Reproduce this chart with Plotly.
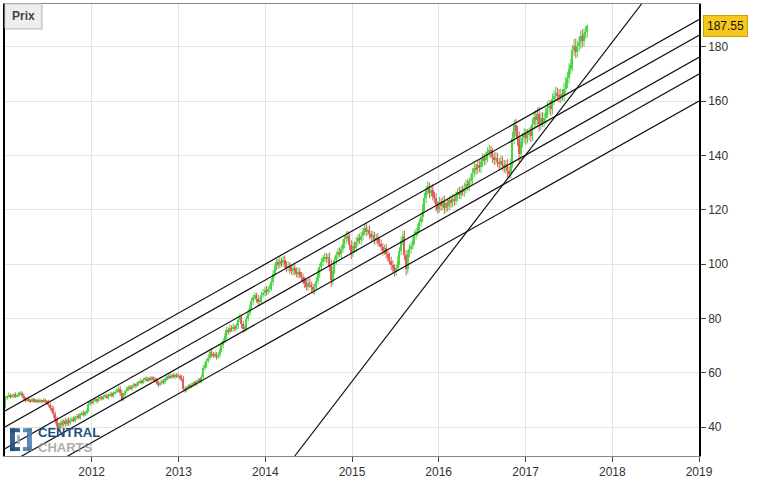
import pandas as pd
import plotly.graph_objects as go

# ---------------- data ----------------
start_week = "2011-01-03"
first_open = 47.5
closes = [
    50.8, 51.3, 51.9, 51.2, 51.6, 52.0, 51.4, 51.8, 52.4, 52.6,
    51.5, 50.6, 50.0, 50.4, 49.9, 49.6, 50.2, 49.8, 49.5, 49.9,
    49.4, 49.8, 49.5, 49.9, 49.6, 49.2, 48.1, 47.0, 46.3, 44.8,
    42.5, 40.6, 39.8, 41.6, 40.9, 42.3, 41.2, 42.8, 41.5, 42.6,
    43.1, 42.4, 43.6, 44.2, 43.5, 44.8, 45.3, 44.6, 45.5, 46.0,
    48.6, 49.3, 49.0, 49.8, 50.3, 49.7, 50.5, 51.0, 50.6, 51.2,
    51.6, 51.0, 51.8, 52.2, 51.7, 52.5, 53.0, 53.6, 54.2, 52.6,
    50.4, 51.8, 53.2, 54.0, 54.8, 54.3, 55.0, 55.6, 55.2, 55.9,
    56.4, 57.0, 56.6, 57.4, 57.9, 57.3, 58.0, 57.6, 58.2, 57.8,
    57.2, 56.3, 55.6, 56.4, 57.1, 56.5, 57.6, 58.3, 58.9, 58.4,
    59.0, 58.5, 59.2, 58.7, 58.9, 58.3, 57.6, 54.2, 53.6, 54.5,
    55.2, 54.8, 55.6, 56.3, 55.9, 56.8, 57.4, 57.0, 58.5, 61.8,
    63.0, 64.4, 65.6, 67.8, 66.9, 66.3, 66.8, 65.9, 66.5, 68.4,
    70.3, 71.8, 73.5, 75.9, 75.2, 76.6, 76.1, 77.0, 76.4, 77.2,
    79.6, 80.4, 77.8, 76.0, 76.9, 79.8, 82.1, 84.0, 86.3, 87.9,
    88.4, 87.2, 85.9, 86.8, 88.6, 89.4, 90.6, 89.8, 90.9, 91.4,
    93.5, 96.2, 99.0, 100.6, 99.8, 101.2, 100.4, 101.6, 99.9, 98.7,
    99.4, 98.2, 97.3, 98.6, 97.6, 96.4, 97.2, 96.0, 95.1, 94.2,
    92.8, 91.6, 93.2, 92.5, 91.4, 90.3, 91.6, 93.8, 96.5, 98.9,
    100.7, 102.1, 102.7, 101.9, 102.5, 99.4, 94.0, 97.6, 101.4, 103.2,
    104.6, 103.8, 105.5, 107.4, 109.2, 110.5, 109.8, 107.2, 104.1, 106.8,
    105.9, 108.3, 109.6, 108.7, 110.4, 112.1, 113.4, 111.8, 112.6, 110.9,
    109.8, 110.6, 108.9, 109.7, 108.2, 107.5, 106.3, 104.8, 105.9, 103.6,
    102.5, 101.3, 99.6, 98.4, 97.3, 98.6, 101.2, 104.8, 108.6, 110.2,
    103.5, 98.2, 103.9, 105.6, 106.8, 108.5, 110.6, 111.8, 113.2, 115.4,
    117.3, 120.8, 124.2, 127.1, 128.6, 126.2, 127.4, 125.1, 124.3, 121.6,
    120.4, 122.8, 121.5, 123.2, 120.6, 122.4, 121.3, 123.6, 122.5, 124.1,
    123.2, 125.0, 126.4, 125.6, 127.2, 126.5, 128.1, 129.5, 128.6, 130.4,
    131.2, 133.6, 135.4, 134.8, 136.3, 135.6, 137.4, 138.9, 138.2, 139.5,
    141.2, 141.9, 140.8, 139.4, 138.2, 139.1, 137.6, 136.8, 138.0, 136.5,
    135.4, 136.7, 134.2, 133.5, 137.2, 146.3, 151.2, 149.0, 146.2, 140.6,
    144.8, 146.5, 147.8, 146.3, 147.6, 148.5, 147.2, 151.6, 154.3, 153.1,
    155.4, 151.6, 153.8, 152.4, 153.6, 155.8, 157.4, 158.3, 157.0, 160.6,
    161.9, 163.0, 162.2, 161.4, 162.5, 162.0, 164.4, 166.8, 168.6, 171.8,
    173.2, 178.6, 180.4, 178.2, 180.1, 181.4, 183.9, 182.0, 184.6, 185.4, 187.55,
]
# weekly wick extensions above / below the candle bodies (price units)
upper_wicks = [
    0.6, 0.4, 0.9, 0.5, 0.7, 0.3, 0.8, 0.6, 0.4, 0.7,
    0.5, 0.9, 0.4, 0.6, 0.8, 0.3, 0.7, 0.5, 0.6, 0.4,
    0.7, 0.5, 0.3, 0.8, 0.6, 0.4, 0.9, 0.7, 1.1, 1.3,
    0.9, 1.4, 1.0, 0.8, 1.2, 0.7, 1.1, 0.6, 0.9, 0.8,
    0.6, 0.9, 0.5, 0.7, 0.8, 0.4, 0.6, 0.9, 0.5, 0.7,
    0.8, 0.6, 0.9, 0.5, 0.7, 0.4, 0.8, 0.6, 0.5, 0.7,
    0.6, 0.8, 0.5, 0.7, 0.9, 0.6, 0.5, 0.8, 0.7, 1.0,
    1.2, 0.8, 0.6, 0.9, 0.5, 0.7, 0.6, 0.8, 0.5, 0.7,
    0.6, 0.9, 0.5, 0.7, 0.6, 0.8, 0.4, 0.7, 0.6, 0.5,
    0.7, 0.9, 0.6, 0.8, 0.5, 0.7, 0.6, 0.8, 0.5, 0.9,
    0.6, 0.8, 0.5, 0.7, 0.9, 0.6, 1.0, 1.2, 0.8, 0.7,
    0.6, 0.8, 0.7, 0.5, 0.9, 0.6, 0.8, 0.7, 0.9, 1.1,
    1.0, 0.8, 1.2, 0.9, 1.1, 0.7, 1.0, 0.8, 1.2, 0.9,
    1.1, 0.9, 1.3, 1.0, 0.8, 1.2, 0.9, 1.1, 0.8, 1.0,
    1.2, 1.4, 1.0, 1.3, 0.9, 1.1, 1.3, 1.0, 1.2, 0.9,
    1.3, 1.1, 1.5, 1.0, 1.2, 1.4, 0.9, 1.3, 1.1, 1.2,
    1.4, 1.6, 1.2, 1.5, 1.3, 1.7, 1.1, 1.4, 1.6, 1.2,
    1.5, 1.3, 1.6, 1.1, 1.4, 1.2, 1.5, 1.3, 1.1, 1.4,
    1.2, 1.5, 1.3, 1.6, 1.1, 1.4, 1.2, 1.5, 1.7, 1.3,
    1.6, 1.2, 1.5, 1.3, 1.4, 1.8, 2.2, 1.6, 1.4, 1.5,
    1.3, 1.6, 1.4, 1.7, 1.2, 1.5, 1.8, 1.4, 1.6, 1.3,
    1.5, 1.7, 1.3, 1.6, 1.4, 1.2, 1.5, 1.8, 1.3, 1.6,
    1.4, 1.6, 1.2, 1.5, 1.7, 1.3, 1.6, 1.4, 1.2, 1.5,
    1.3, 1.6, 1.4, 1.8, 1.5, 1.2, 1.7, 1.4, 1.6, 1.9,
    2.2, 1.6, 1.4, 1.7, 1.3, 1.5, 1.8, 1.4, 1.6, 1.3,
    1.8, 1.5, 2.0, 1.6, 1.9, 1.4, 1.7, 2.1, 1.5, 1.8,
    1.6, 1.9, 1.4, 1.7, 2.0, 1.5, 1.8, 1.4, 1.6, 1.9,
    1.5, 1.8, 1.6, 2.0, 1.4, 1.7, 1.9, 1.5, 1.8, 1.6,
    1.9, 1.7, 2.1, 1.6, 1.8, 2.2, 1.5, 1.9, 1.7, 2.0,
    1.8, 2.1, 1.6, 1.9, 1.7, 2.2, 1.8, 1.5, 2.0, 1.7,
    1.9, 1.6, 2.0, 1.8, 1.7, 2.4, 1.9, 2.2, 1.8, 2.6,
    2.0, 1.8, 2.3, 1.9, 2.1, 1.7, 2.2, 2.0, 1.8, 2.4,
    2.1, 2.5, 1.9, 2.2, 2.0, 1.8, 2.3, 2.1, 1.9, 2.2,
    2.0, 2.3, 1.9, 2.2, 2.1, 1.8, 2.4, 2.0, 2.2, 2.1,
    2.3, 2.0, 2.4, 2.6, 2.1, 2.2, 2.0, 2.5, 2.1, 2.3, 0.6,
]
lower_wicks = [
    0.5, 0.8, 0.4, 0.7, 0.5, 0.9, 0.6, 0.4, 0.7, 0.5,
    0.8, 0.6, 0.9, 0.5, 0.7, 0.6, 0.4, 0.8, 0.5, 0.7,
    0.6, 0.4, 0.8, 0.5, 0.7, 0.9, 0.6, 0.8, 1.0, 1.4,
    1.2, 1.0, 1.5, 0.9, 1.3, 0.8, 1.0, 0.7, 1.1, 0.6,
    0.8, 0.5, 0.7, 0.9, 0.6, 0.8, 0.5, 0.7, 0.6, 0.9,
    0.5, 0.8, 0.6, 0.7, 0.5, 0.9, 0.6, 0.8, 0.7, 0.5,
    0.7, 0.5, 0.8, 0.6, 0.7, 0.9, 0.5, 0.6, 0.8, 1.1,
    0.9, 0.7, 0.8, 0.5, 0.7, 0.6, 0.9, 0.5, 0.8, 0.6,
    0.7, 0.5, 0.8, 0.6, 0.9, 0.5, 0.7, 0.8, 0.6, 0.7,
    0.8, 0.6, 0.9, 0.5, 0.7, 0.8, 0.6, 0.5, 0.7, 0.6,
    0.7, 0.5, 0.8, 0.6, 0.7, 0.9, 0.8, 1.1, 0.9, 0.6,
    0.8, 0.6, 0.5, 0.9, 0.7, 0.8, 0.6, 0.9, 0.7, 0.8,
    0.9, 1.1, 0.8, 1.0, 1.2, 0.9, 0.7, 1.1, 0.8, 1.0,
    0.8, 1.2, 0.9, 1.1, 1.3, 0.8, 1.0, 0.9, 1.2, 0.8,
    1.1, 0.9, 1.4, 1.2, 1.0, 1.3, 0.9, 1.2, 1.0, 1.4,
    1.1, 1.4, 1.2, 1.0, 1.3, 0.9, 1.2, 1.4, 1.0, 1.3,
    1.2, 1.4, 1.1, 1.3, 1.6, 1.2, 1.5, 1.3, 1.4, 1.7,
    1.3, 1.6, 1.2, 1.4, 1.7, 1.3, 1.5, 1.2, 1.6, 1.4,
    1.6, 1.3, 1.5, 1.2, 1.7, 1.4, 1.6, 1.3, 1.2, 1.5,
    1.3, 1.5, 1.2, 1.6, 1.4, 2.0, 2.4, 1.5, 1.3, 1.6,
    1.4, 1.2, 1.6, 1.3, 1.5, 1.7, 1.4, 1.9, 2.3, 1.5,
    1.7, 1.4, 1.6, 1.3, 1.5, 1.8, 1.4, 1.6, 1.3, 1.7,
    1.5, 1.3, 1.7, 1.4, 1.6, 1.2, 1.5, 1.7, 1.4, 1.6,
    1.6, 1.4, 1.8, 1.5, 1.9, 1.6, 1.3, 1.5, 1.4, 1.7,
    2.1, 2.4, 1.6, 1.4, 1.7, 1.5, 1.3, 1.6, 1.4, 1.5,
    1.6, 1.9, 1.5, 1.8, 1.6, 2.0, 1.5, 1.7, 1.9, 2.2,
    1.8, 1.5, 1.9, 1.6, 2.1, 1.7, 1.9, 1.5, 1.8, 1.6,
    1.7, 1.5, 1.9, 1.6, 1.8, 1.5, 1.7, 2.0, 1.6, 1.8,
    1.6, 2.0, 1.7, 1.9, 1.6, 1.8, 2.1, 1.7, 1.9, 1.6,
    2.0, 1.7, 1.9, 2.2, 1.8, 1.6, 2.0, 2.3, 1.7, 2.1,
    1.8, 2.1, 2.4, 2.0, 1.9, 1.7, 2.2, 2.0, 2.6, 3.6,
    2.2, 1.9, 2.1, 2.4, 1.8, 2.0, 2.3, 1.9, 2.1, 2.5,
    2.0, 2.7, 2.2, 1.9, 2.1, 2.0, 1.8, 2.2, 2.4, 1.9,
    2.1, 1.8, 2.3, 2.0, 2.2, 1.9, 2.1, 1.8, 2.0, 2.2,
    1.9, 2.2, 2.0, 2.5, 2.1, 1.9, 2.3, 2.2, 2.0, 1.8, 1.9,
]
last_price = 187.55

# parallel channel lines (value at left edge / right edge)
line_dates = ["2011-01-01", "2019-01-01"]
channel_left = [46.0, 40.1, 32.1, 25.9, 16.4]
channel_right = [190.0, 184.2, 176.1, 169.9, 160.0]
# steep support line
steep_dates = ["2014-05-05", "2018-05-05"]
steep_vals = [29.4, 195.8]

y_ticks = [40, 60, 80, 100, 120, 140, 160, 180]
x_ticks = ["2012-01-01", "2013-01-01", "2014-01-01", "2015-01-01",
           "2016-01-01", "2017-01-01", "2018-01-01", "2019-01-01"]
x_ticktext = ["2012", "2013", "2014", "2015", "2016", "2017", "2018", "2019"]

# ---------------- figure ----------------
dates = list(pd.date_range(start_week, periods=len(closes), freq="7D"))
opens = [first_open] + closes[:-1]
highs = [max(o, c) + w for o, c, w in zip(opens, closes, upper_wicks)]
lows = [min(o, c) - w for o, c, w in zip(opens, closes, lower_wicks)]

GREEN = "#4cd646"
RED = "#df5e5a"
DAY_MS = 86400000

fig = go.Figure()
for up, col in [(True, GREEN), (False, RED)]:
    idx = [i for i in range(len(closes)) if (closes[i] >= opens[i]) == up]
    wx, wy = [], []
    for i in idx:
        wx += [dates[i], dates[i], None]
        wy += [lows[i], highs[i], None]
    fig.add_trace(go.Scatter(x=wx, y=wy, mode="lines",
                             line=dict(color=col, width=1),
                             showlegend=False, hoverinfo="skip"))
    fig.add_trace(go.Bar(
        x=[dates[i] for i in idx],
        base=[min(opens[i], closes[i]) for i in idx],
        y=[abs(closes[i] - opens[i]) for i in idx],
        width=6.4 * DAY_MS, marker=dict(color=col, line=dict(width=0)),
        showlegend=False, hoverinfo="skip",
    ))

for lv, rv in zip(channel_left, channel_right):
    fig.add_trace(go.Scatter(x=line_dates, y=[lv, rv], mode="lines",
                             line=dict(color="#111111", width=1.2),
                             showlegend=False, hoverinfo="skip"))
fig.add_trace(go.Scatter(x=steep_dates, y=steep_vals, mode="lines",
                         line=dict(color="#111111", width=1.2),
                         showlegend=False, hoverinfo="skip"))

PW, PH = 696.0, 456.0  # plot area in px


def px(xp):
    return (xp - 3) / PW


def py(yp):
    return (459 - yp) / PH


shapes = []
# "Prix" button (shadow + face)
shapes.append(dict(type="rect", xref="paper", yref="paper",
                   x0=px(4), x1=px(41), y0=py(29), y1=py(4),
                   fillcolor="#d2d2d2", line=dict(width=0)))
shapes.append(dict(type="rect", xref="paper", yref="paper",
                   x0=px(3), x1=px(39.5), y0=py(27.5), y1=py(3),
                   fillcolor="#eeeeee", line=dict(color="#cfcfcf", width=1)))
# logo icon
logo_dark = "#1d4f80"
logo_light = "#4a7fae"
for (x0, y0, x1, y1, col) in [
    (8, 431, 13, 454, logo_dark), (8, 431, 18, 435, logo_dark), (8, 450, 18, 454, logo_dark),
    (25, 431, 30, 454, logo_light), (21, 431, 30, 435, logo_light), (21, 450, 30, 454, logo_light),
    (15, 438, 18, 447, "#9aa6b2"),
]:
    shapes.append(dict(type="rect", xref="paper", yref="paper",
                       x0=px(x0), x1=px(x1), y0=py(y1), y1=py(y0),
                       fillcolor=col, line=dict(width=0), opacity=0.9))

annotations = [
    dict(xref="paper", yref="paper", x=px(21.5), y=py(15.5), xanchor="center",
         yanchor="middle", text="<b>Prix</b>", showarrow=False,
         font=dict(family="Liberation Sans, Arial", size=12, color="#444444")),
    dict(xref="paper", yref="y", x=1, y=last_price, xanchor="left", yanchor="middle",
         xshift=4, text="187.55", showarrow=False, bgcolor="#f7c81c",
         bordercolor="#c8a000", borderwidth=1, borderpad=3,
         font=dict(family="Liberation Sans, Arial", size=12, color="#111111")),
    dict(xref="paper", yref="paper", x=px(34), y=py(435), xanchor="left", yanchor="middle",
         text="<b>CENTRAL</b>", showarrow=False,
         font=dict(family="Liberation Sans, Arial", size=13, color=logo_dark)),
    dict(xref="paper", yref="paper", x=px(34), y=py(450), xanchor="left", yanchor="middle",
         text="<b>CHARTS</b>", showarrow=False, opacity=0.8,
         font=dict(family="Liberation Sans, Arial", size=13, color="#9b9b9b")),
]

fig.update_layout(
    width=770, height=482,
    margin=dict(l=3, r=71, t=3, b=23),
    paper_bgcolor="white", plot_bgcolor="white",
    font=dict(family="Liberation Sans, Arial", size=12, color="#333333"),
    shapes=shapes, annotations=annotations,
    showlegend=False, barmode="overlay", bargap=0,
    xaxis=dict(
        type="date", range=["2011-01-01", "2019-01-01"],
        tickvals=x_ticks, ticktext=x_ticktext,
        showgrid=True, gridcolor="#e4e4e4", gridwidth=1,
        showline=True, linecolor="#888888", linewidth=1, mirror=True,
        ticks="outside", ticklen=5, tickcolor="#444444",
        zeroline=False,
    ),
    yaxis=dict(
        side="right", range=[29.4, 195.7],
        tickvals=y_ticks,
        showgrid=True, gridcolor="#e4e4e4", gridwidth=1,
        showline=True, linecolor="#000000", linewidth=1.5, mirror=True,
        ticks="outside", ticklen=5, tickcolor="#444444",
        zeroline=False,
    ),
)

fig.write_html("out.html")
